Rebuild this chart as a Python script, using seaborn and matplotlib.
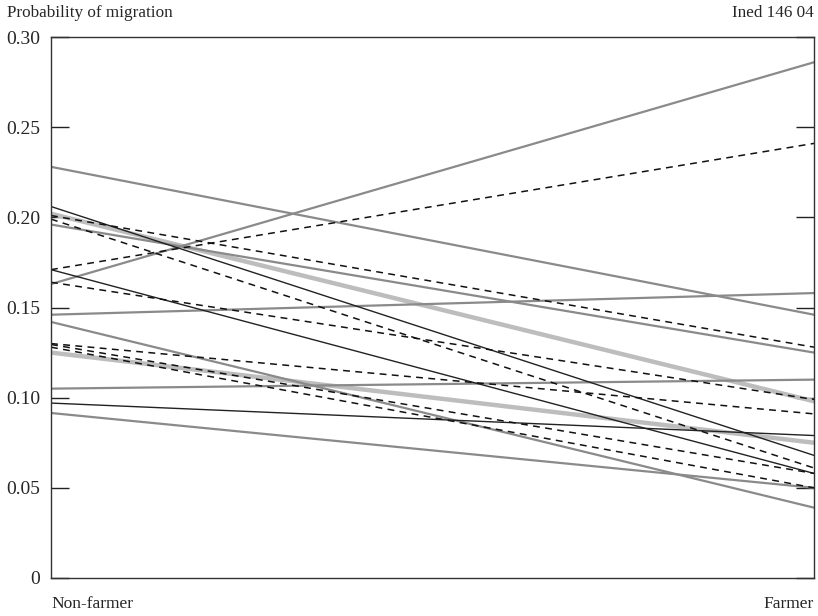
import matplotlib
matplotlib.use("Agg")
import matplotlib.pyplot as plt
import seaborn as sns
import pandas as pd

# Occupational status of the household head
categories = ["Non-farmer", "Farmer"]

# Probability of migration, one line per model (left = non-farmer, right = farmer)
gray_left = [0.163, 0.228, 0.196, 0.146, 0.142, 0.105, 0.0915]
gray_right = [0.286, 0.146, 0.125, 0.158, 0.039, 0.110, 0.050]

thick_left = [0.202, 0.125]
thick_right = [0.098, 0.075]

black_left = [0.206, 0.171, 0.097]
black_right = [0.068, 0.058, 0.079]

dashed_left = [0.171, 0.201, 0.199, 0.164, 0.130, 0.1295, 0.128]
dashed_right = [0.241, 0.128, 0.061, 0.099, 0.091, 0.058, 0.050]

yticks = [0, 0.05, 0.10, 0.15, 0.20, 0.25, 0.30]
ytick_labels = ["0", "0.05", "0.10", "0.15", "0.20", "0.25", "0.30"]


def to_long(left, right, group):
    rows = []
    for i, (a, b) in enumerate(zip(left, right)):
        rows.append({"group": group, "line": f"{group}{i}", "status": categories[0], "p": a})
        rows.append({"group": group, "line": f"{group}{i}", "status": categories[1], "p": b})
    return pd.DataFrame(rows)


df = pd.concat([
    to_long(gray_left, gray_right, "gray"),
    to_long(thick_left, thick_right, "thick"),
    to_long(black_left, black_right, "black"),
    to_long(dashed_left, dashed_right, "dashed"),
], ignore_index=True)

styles = {
    "thick": dict(color="#bdbdbd", linewidth=3.2, linestyle="-"),
    "gray": dict(color="#8a8a8a", linewidth=1.6, linestyle="-"),
    "black": dict(color="#222222", linewidth=1.0, linestyle="-"),
    "dashed": dict(color="#111111", linewidth=1.1, linestyle=(0, (4.5, 3.5))),
}

sns.set_style("white")
plt.rcParams["font.family"] = ["Liberation Serif", "DejaVu Serif"]

fig = plt.figure(figsize=(8.18, 6.16), dpi=100)
ax = fig.add_axes([51 / 818, 1 - 578 / 616, (814 - 51) / 818, (578 - 37) / 616])

for group in ["thick", "gray", "black", "dashed"]:
    sub = df[df["group"] == group]
    sns.lineplot(data=sub, x="status", y="p", units="line", estimator=None,
                 sort=False, ax=ax, **styles[group])

ax.set_xlim(0, 1)
ax.set_ylim(0, 0.30)
ax.set_xlabel("")
ax.set_ylabel("")

ax.set_yticks(yticks)
ax.set_yticklabels(ytick_labels)
ax.tick_params(axis="y", direction="in", length=13, width=1.0, color="#222222",
               left=True, right=True, labelsize=14, pad=8)
ax.set_xticks([0, 1])
ax.set_xticklabels(categories)
ax.tick_params(axis="x", length=0, labelsize=12.5, pad=13)
xl = ax.get_xticklabels()
xl[0].set_ha("left")
xl[1].set_ha("right")

for side in ["left", "right", "top", "bottom"]:
    ax.spines[side].set_visible(True)
    ax.spines[side].set_color("#333333")
    ax.spines[side].set_linewidth(1.0)

fig.text(7 / 818, 1 - 13 / 616, "Probability of migration", ha="left", va="center", fontsize=12.3)
fig.text(814 / 818, 1 - 13 / 616, "Ined 146 04", ha="right", va="center", fontsize=12.3)

fig.savefig("out.png", dpi=100)
